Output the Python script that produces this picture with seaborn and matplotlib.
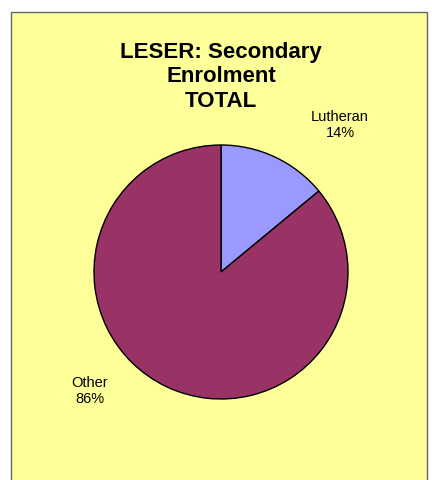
import matplotlib
matplotlib.use("Agg")
import matplotlib.pyplot as plt
import seaborn as sns
from matplotlib.patches import Rectangle

categories = ["Lutheran", "Other"]
shares = [14, 86]
title = "LESER: Secondary\nEnrolment\nTOTAL"

sns.set_theme(style="white")
plt.rcParams["font.family"] = ["Liberation Sans", "DejaVu Sans"]

colors = ["#9999FF", "#993366"]

fig = plt.figure(figsize=(4.32, 4.80), dpi=100)
fig.patch.set_facecolor("white")
ax = fig.add_axes([0, 0, 1, 1])
ax.set_xlim(0, 432)
ax.set_ylim(0, 480)
ax.axis("off")

ax.add_patch(Rectangle((10.5, -5), 416.5, 473, facecolor="#FFFF99",
                       edgecolor="#666666", linewidth=1.0, zorder=0))

ax.pie(shares, colors=colors, startangle=90, counterclock=False,
       center=(221, 208), radius=127, frame=True,
       wedgeprops=dict(edgecolor="black", linewidth=1.0))
ax.set_xlim(0, 432)
ax.set_ylim(0, 480)
ax.axis("off")

ax.text(221, 403, title, ha="center", va="center", fontsize=16,
        fontweight="bold", linespacing=1.22, color="black")

label_pos = [(340, 355), (90, 89)]
for (x, y), c, s in zip(label_pos, categories, shares):
    ax.text(x, y, f"{c}\n{s}%", ha="center", va="center", fontsize=10.5,
            linespacing=1.1, color="black")

fig.savefig("out.png", dpi=100, facecolor="white")
